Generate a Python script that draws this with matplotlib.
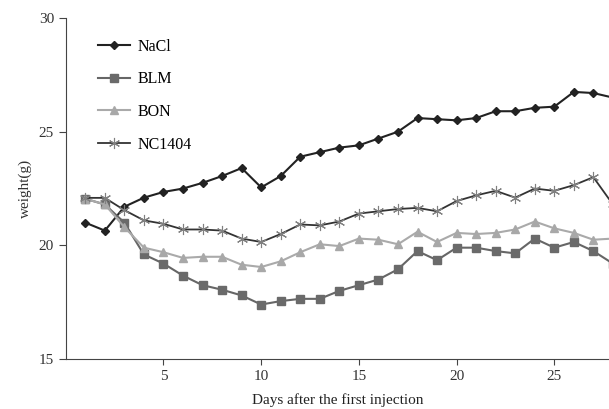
import numpy as np
import matplotlib
matplotlib.use("Agg")
import matplotlib.pyplot as plt

plt.rcParams['font.family'] = ['Liberation Serif', 'DejaVu Serif']

days = np.arange(1, 29)

nacl = [21.0, 20.65, 21.7, 22.1, 22.35, 22.5, 22.75, 23.05, 23.4, 22.55,
        23.05, 23.9, 24.1, 24.3, 24.4, 24.7, 25.0, 25.6, 25.55, 25.5,
        25.6, 25.9, 25.9, 26.05, 26.1, 26.75, 26.7, 26.5]
blm = [22.05, 21.8, 21.0, 19.6, 19.2, 18.67, 18.25, 18.05, 17.8, 17.4,
       17.55, 17.65, 17.65, 18.0, 18.25, 18.5, 18.95, 19.75, 19.35, 19.9,
       19.9, 19.75, 19.65, 20.3, 19.9, 20.15, 19.75, 19.2]
bon = [22.05, 21.8, 20.8, 19.9, 19.7, 19.45, 19.5, 19.5, 19.15, 19.05,
       19.3, 19.7, 20.05, 19.97, 20.3, 20.25, 20.05, 20.6, 20.15, 20.55,
       20.5, 20.55, 20.7, 21.05, 20.75, 20.55, 20.25, 20.3]
nc1404 = [22.09, 22.09, 21.55, 21.1, 20.95, 20.7, 20.7, 20.65, 20.3, 20.15,
          20.5, 20.92, 20.88, 21.05, 21.4, 21.5, 21.6, 21.65, 21.5, 21.95,
          22.2, 22.4, 22.1, 22.5, 22.4, 22.65, 23.0, 21.8]

fig = plt.figure(figsize=(6.09, 4.09), dpi=100)
ax = fig.add_axes([0.108, 0.122, 0.892, 0.834])

ax.plot(days, nacl, color='#222222', lw=1.5, marker='D', ms=4.5,
        mfc='#222222', mec='#222222', label='NaCl')
ax.plot(days, blm, color='#666666', lw=1.5, marker='s', ms=5.5,
        mfc='#6a6a6a', mec='#6a6a6a', label='BLM')
ax.plot(days, bon, color='#aaaaaa', lw=1.5, marker='^', ms=6,
        mfc='#a8a8a8', mec='#a8a8a8', label='BON')
ax.plot(days, nc1404, color='#333333', lw=1.3, marker=(6, 2, 0), ms=8,
        mec='#808080', mew=0.8, label='NC1404')

ax.set_xlim(0, 27.8)
ax.set_ylim(15, 30)
ax.set_xticks([5, 10, 15, 20, 25])
ax.set_yticks([15, 20, 25, 30])
ax.spines['top'].set_visible(False)
ax.spines['right'].set_visible(False)
for s in ('left', 'bottom'):
    ax.spines[s].set_color('#444444')
ax.tick_params(axis='y', length=5)
ax.tick_params(axis='x', length=4)
ax.tick_params(labelsize=11, colors='#444444', labelcolor='#333333')

ax.set_xlabel('Days after the first injection', fontsize=11, color='#222222', labelpad=8)
ax.set_ylabel('weight(g)', fontsize=11, color='#333333', labelpad=5)

ax.legend(loc='upper left', bbox_to_anchor=(0.033, 0.982), frameon=False,
          fontsize=11.5, labelspacing=1.05, handlelength=2.0, handletextpad=0.45)

fig.savefig('out.png', dpi=100)
